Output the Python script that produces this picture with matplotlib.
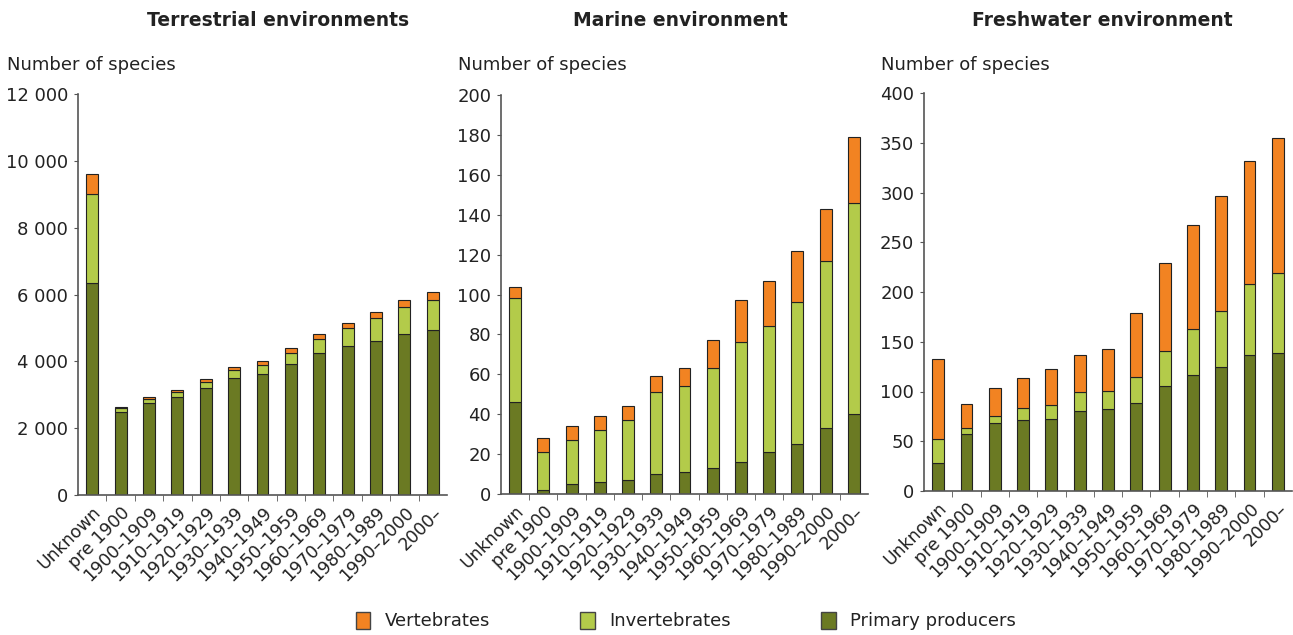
import numpy as np
import matplotlib
matplotlib.use('Agg')
from matplotlib import pyplot as plt
from matplotlib.ticker import FuncFormatter
from matplotlib.patches import Patch

# Categories (time periods)
periods = ['Unknown', 'pre 1900', '1900\u20131909', '1910\u20131919', '1920\u20131929',
           '1930\u20131939', '1940\u20131949', '1950\u20131959', '1960\u20131969',
           '1970\u20131979', '1980\u20131989', '1990\u20132000', '2000\u2013']

# Terrestrial environments
terr_primary = [6350, 2480, 2750, 2930, 3200, 3500, 3630, 3920, 4250, 4450, 4620, 4820, 4950]
terr_invert = [2650, 110, 120, 150, 180, 250, 270, 330, 420, 540, 670, 810, 890]
terr_vert = [600, 40, 60, 70, 90, 90, 110, 140, 150, 160, 190, 220, 240]

# Marine environment
mar_primary = [46, 2, 5, 6, 7, 10, 11, 13, 16, 21, 25, 33, 40]
mar_invert = [52, 19, 22, 26, 30, 41, 43, 50, 60, 63, 71, 84, 106]
mar_vert = [6, 7, 7, 7, 7, 8, 9, 14, 21, 23, 26, 26, 33]

# Freshwater environment
fw_primary = [28, 57, 68, 71, 72, 80, 82, 88, 106, 117, 125, 137, 139]
fw_invert = [24, 6, 7, 12, 14, 19, 19, 27, 35, 46, 56, 71, 80]
fw_vert = [81, 24, 29, 31, 37, 38, 42, 64, 88, 104, 115, 124, 136]

titles = ['Terrestrial environments', 'Marine environment', 'Freshwater environment']
ymax = [12000, 200, 400]
ystep = [2000, 20, 50]
data = [(terr_primary, terr_invert, terr_vert),
        (mar_primary, mar_invert, mar_vert),
        (fw_primary, fw_invert, fw_vert)]

c_vert = '#f28322'
c_inv = '#b3cb4a'
c_prim = '#6b7a23'
txt = '#222222'

fig = plt.figure(figsize=(12.93, 6.35), dpi=100)
W, H = 1293, 635
# axes boxes in pixels: left, right, top, bottom
boxes = [(78, 447, 94, 495), (501, 868, 95, 494), (924, 1292, 93, 491)]
title_x = [278, 680, 1102]
label_x = [7, 458, 881]

x = np.arange(len(periods))
for k in range(3):
    l, r, t, b = boxes[k]
    ax = fig.add_axes([l / W, 1 - b / H, (r - l) / W, (b - t) / H])
    prim, inv, vert = [np.array(v) for v in data[k]]
    kw = dict(width=0.42, edgecolor='#222222', linewidth=0.8)
    ax.bar(x, prim, color=c_prim, **kw)
    ax.bar(x, inv, bottom=prim, color=c_inv, **kw)
    ax.bar(x, vert, bottom=prim + inv, color=c_vert, **kw)

    ax.set_xlim(-0.5, len(periods) - 0.5)
    ax.set_ylim(0, ymax[k])
    ax.set_yticks(np.arange(0, ymax[k] + 1, ystep[k]))
    ax.yaxis.set_major_formatter(FuncFormatter(lambda v, p: '{:,}'.format(int(v)).replace(',', ' ')))
    ax.set_xticks(x)
    ax.set_xticklabels(periods, rotation=45, ha='right', rotation_mode='anchor')
    ax.set_xticks(np.arange(0.5, len(periods) - 0.5, 1), minor=True)
    ax.tick_params(axis='x', which='major', length=0, pad=6, labelsize=12.5, labelcolor=txt)
    ax.tick_params(axis='x', which='minor', length=4, color='#555555')
    ax.tick_params(axis='y', length=3, color='#555555', labelsize=13, labelcolor=txt, pad=4)
    for s in ['top', 'right']:
        ax.spines[s].set_visible(False)
    for s in ['left', 'bottom']:
        ax.spines[s].set_color('#555555')
        ax.spines[s].set_linewidth(1.2)

    fig.text(title_x[k] / W, 1 - 20 / H, titles[k], ha='center', va='center',
             fontsize=13.5, fontweight='bold', color=txt)
    fig.text(label_x[k] / W, 1 - 65 / H, 'Number of species', ha='left', va='center',
             fontsize=13, color=txt)

handles = [Patch(facecolor=c_vert, edgecolor='#444444', label='Vertebrates'),
           Patch(facecolor=c_inv, edgecolor='#444444', label='Invertebrates'),
           Patch(facecolor=c_prim, edgecolor='#444444', label='Primary producers')]
fig.legend(handles=handles, loc='center', bbox_to_anchor=(686 / W, 1 - 621 / H), ncol=3,
           frameon=False, fontsize=13, handlelength=0.8, handleheight=1.1,
           columnspacing=5.0, handletextpad=0.8, labelcolor=txt)

plt.savefig('out.png', dpi=100)
